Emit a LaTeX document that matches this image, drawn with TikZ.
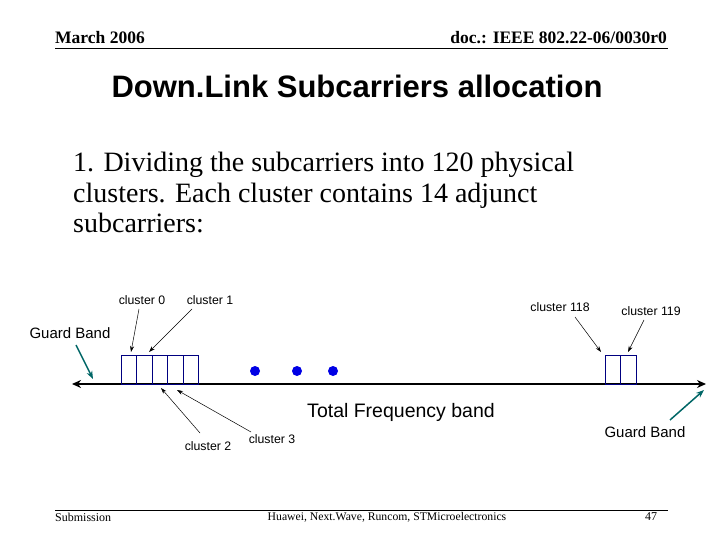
\documentclass[tikz,border=0pt]{standalone}
\usepackage{fontspec}
\setmainfont{Liberation Serif}
\newfontfamily\arial{Liberation Sans}
\usetikzlibrary{arrows.meta}
\begin{document}
\begin{tikzpicture}[x=1pt,y=-1pt,
  lbl/.style={font=\arial\fontsize{12.3}{14}\selectfont,inner sep=0},
  thin arr/.style={-{Stealth[length=6pt,width=4pt]},line width=0.5pt},
  teal arr/.style={-{Stealth[length=8pt,width=6pt]},line width=1.5pt,color=teal!80!black},
  box/.style={draw=blue!50!black,line width=0.5pt,minimum width=15.4pt,minimum height=29pt,inner sep=0,anchor=south west},
  dot/.style={circle,fill=blue!90!black,minimum size=10pt,inner sep=0}]
\useasboundingbox (0,0) rectangle (720,540);
% header
\node[anchor=west,font=\bfseries\fontsize{17.5}{20}\selectfont,inner sep=0] (hl) at (55,38) {March 2006};
\node[anchor=east,font=\bfseries\fontsize{17.5}{20}\selectfont,inner sep=0] (hr) at (667,38) {doc.: IEEE 802.22-06/0030r0};
\draw[line width=0.6pt] (55,48) -- (668,48);
\node[font=\arial\bfseries\fontsize{31}{36}\selectfont,inner sep=0] (title) at (357,86) {Down.Link Subcarriers allocation};
\node[anchor=north west,align=left,font=\fontsize{28}{30.5}\selectfont,inner sep=0] (body) at (73,152)
 {1. Dividing the subcarriers into 120 physical\\clusters. Each cluster contains 14 adjunct\\subcarriers:};
% axis
\coordinate (axL) at (72,384); \coordinate (axR) at (706,384);
\draw[{Stealth[length=9pt,width=8pt]}-{Stealth[length=9pt,width=8pt]},line width=2.2pt] (axL) -- (axR);
\foreach \i in {0,...,4}{\node[box] (b\i) at (121+15.4*\i,384) {};}
\node[box] (r0) at (605,384) {};
\node[box] (r1) at (620.4,384) {};
\node[dot] (d1) at (255,371) {};
\node[dot] (d2) at (297,371) {};
\node[dot] (d3) at (333,371) {};
% labels
\node[lbl] (c0) at (142,300) {cluster 0};
\node[lbl] (c1) at (210,300) {cluster 1};
\node[lbl] (c2) at (208,446) {cluster 2};
\node[lbl] (c3) at (272,439) {cluster 3};
\node[lbl] (c118) at (560,307) {cluster 118};
\node[lbl] (c119) at (651,311) {cluster 119};
\node[lbl,font=\arial\fontsize{15}{17}\selectfont] (gl) at (70,333) {Guard Band};
\node[lbl,font=\arial\fontsize{15}{17}\selectfont] (gr) at (645,432) {Guard Band};
\node[lbl,font=\arial\fontsize{19.5}{22}\selectfont] (tf) at (401,412) {Total Frequency band};
\coordinate (s0) at (139,309); \coordinate (a0) at (131,352);
\coordinate (s1) at (192,309); \coordinate (a1) at (149,352);
\coordinate (s2) at (200,433); \coordinate (a2) at (161,388);
\coordinate (s3) at (251,432); \coordinate (a3) at (177,390);
\coordinate (s118) at (575,317); \coordinate (a118) at (601,352);
\coordinate (s119) at (644,320); \coordinate (a119) at (628,352);
\coordinate (sg1) at (76,345); \coordinate (ag1) at (93,379);
\coordinate (sg2) at (670,420); \coordinate (ag2) at (704,390);
\draw[thin arr] (s0) -- (a0);
\draw[thin arr] (s1) -- (a1);
\draw[thin arr] (s2) -- (a2);
\draw[thin arr] (s3) -- (a3);
\draw[thin arr] (s118) -- (a118);
\draw[thin arr] (s119) -- (a119);
\draw[teal arr] (sg1) -- (ag1);
\draw[teal arr] (sg2) -- (ag2);
% footer
\draw[line width=0.6pt] (55,510) -- (668,510);
\node[anchor=west,font=\fontsize{12}{14}\selectfont,inner sep=0] (f1) at (55,517) {Submission};
\node[font=\fontsize{11.7}{14}\selectfont,inner sep=0] (f2) at (387,517) {Huawei, Next.Wave, Runcom, STMicroelectronics};
\node[font=\fontsize{12}{14}\selectfont,inner sep=0] (f3) at (651,517) {47};
\end{tikzpicture}
\end{document}
